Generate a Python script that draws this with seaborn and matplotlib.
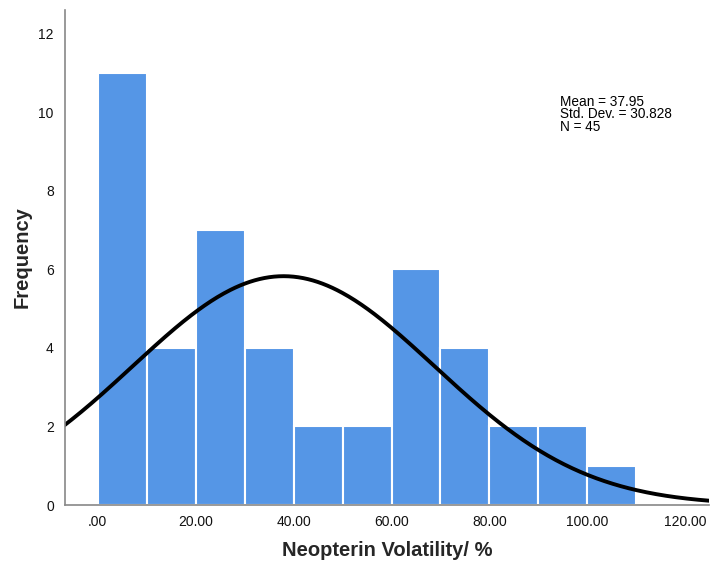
import numpy as np
import pandas as pd
import matplotlib
matplotlib.use("Agg")
import matplotlib.pyplot as plt
import seaborn as sns

bin_edges = [0, 10, 20, 30, 40, 50, 60, 70, 80, 90, 100, 110]
counts = [11, 4, 7, 4, 2, 2, 6, 4, 2, 2, 1]
mean_val = 37.95
sd_val = 30.828
n_val = 45
x_ticks = [0, 20, 40, 60, 80, 100, 120]
x_tick_labels = [".00", "20.00", "40.00", "60.00", "80.00", "100.00", "120.00"]
y_ticks = [0, 2, 4, 6, 8, 10, 12]

sns.set_style("white")
plt.rcParams['font.family'] = ['Liberation Sans', 'DejaVu Sans']

centers = [(a + b) / 2 for a, b in zip(bin_edges[:-1], bin_edges[1:])]
df = pd.DataFrame({"x": centers, "w": counts})

fig = plt.figure(figsize=(7.1, 5.62), dpi=100)
ax = fig.add_axes([0.0915, 0.1014, 0.9075, 0.881])
sns.histplot(data=df, x="x", weights="w", bins=bin_edges, ax=ax,
             color="#5596E6", alpha=1.0, edgecolor="white", linewidth=1.5)

xs = np.linspace(-7, 125, 400)
bw = bin_edges[1] - bin_edges[0]
ys = n_val * bw / (sd_val * np.sqrt(2 * np.pi)) * np.exp(-0.5 * ((xs - mean_val) / sd_val) ** 2)
sns.lineplot(x=xs, y=ys, ax=ax, color="black", linewidth=2.8)

ax.set_xlim(-6.7, 124.9)
ax.set_ylim(0, 12.6)
ax.set_xticks(x_ticks)
ax.set_xticklabels(x_tick_labels)
ax.set_yticks(y_ticks)
ax.tick_params(axis="both", length=0, labelsize=10, colors="#111111", pad=8)
ax.tick_params(axis="x", pad=7)
for s in ["top", "right"]:
    ax.spines[s].set_visible(False)
for s in ["left", "bottom"]:
    ax.spines[s].set_color("#888888")
    ax.spines[s].set_linewidth(1.2)

ax.set_xlabel("Neopterin Volatility/ %", fontsize=14.5, fontweight="bold", labelpad=9)
ax.set_ylabel("Frequency", fontsize=14.5, fontweight="bold", labelpad=5)

ax.text(0.768, 0.828, f"Mean = {mean_val:.2f}\nStd. Dev. = {sd_val:.3f}\nN = {n_val}",
        transform=ax.transAxes, fontsize=9.8, va="top", ha="left", linespacing=0.85,
        color="black")

fig.savefig("out.png", dpi=100)
